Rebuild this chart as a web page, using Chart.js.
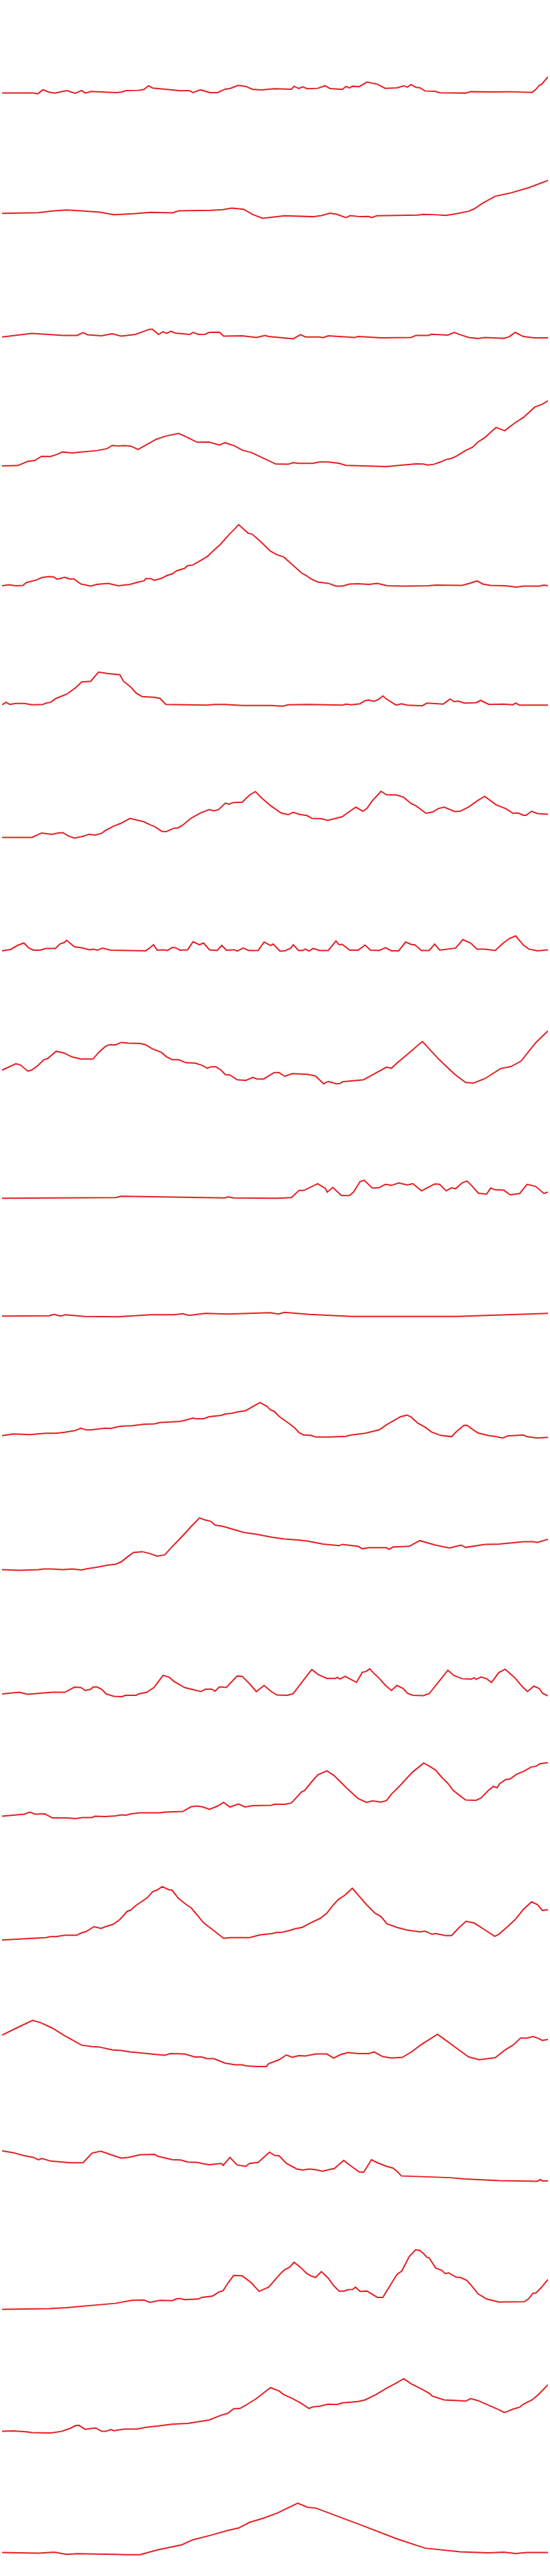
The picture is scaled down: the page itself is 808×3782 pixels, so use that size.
<!DOCTYPE html>
<html>
<head>
<meta charset="utf-8">
<script src="https://cdn.jsdelivr.net/npm/chart.js@4.4.1/dist/chart.umd.min.js"></script>
<style>
  html, body { margin: 0; padding: 0; background: #fff; }
  #stack { position: relative; width: 808px; height: 3782px; }
  .panel { position: absolute; left: 0; width: 808px; }
</style>
</head>
<body>
<div id="stack"></div>
<script>
// 21 sparklines, each series is [step, value] pairs.
// step runs 0..120 across the width, value 0..180 within each strip.
const s01 = [[0,43.4],[6.9,43.4],[7.9,42.4],[9,48.4],[10.2,45.1],[11.5,43.4],[14.2,47.1],[16.1,43.1],[17.5,47.1],[18.3,43.4],[19.6,45.8],[21.9,45.1],[25,44.1],[26.2,44.8],[27.3,47.1],[30,47.4],[31.2,48.8],[32.2,54.1],[33.1,50.8],[39.3,46.8],[41.1,47.1],[42,44.1],[43.6,48.1],[45.7,44.1],[47.4,44.1],[49,49.1],[50.1,50.1],[51.9,54.8],[53.6,53.1],[55.1,48.8],[57.1,48.1],[59.8,49.8],[63.6,49.1],[64.2,53.4],[65.2,50.1],[66.1,52.4],[67.1,49.8],[69.4,50.4],[71,54.1],[72.1,50.1],[74.8,48.8],[75.6,53.1],[76.4,50.8],[77,53.4],[78.5,52.8],[80.2,59.4],[82.5,56.4],[84.2,50.4],[86.8,51.1],[88.3,54.1],[89.1,52.1],[89.9,55.8],[91,51.8],[91.8,51.4],[93,46.4],[95.1,46.1],[96.3,43.8],[101.9,43.4],[103,45.4],[107.6,45.1],[111.5,45.4],[116.5,44.4],[117.3,48.4],[118.1,54.8],[118.7,56.8],[120,67.4]];
const s02 = [[0,46.9],[8,47.9],[11.1,50.2],[14.2,51.9],[17.3,50.5],[21.5,48.5],[24.6,44.9],[28.9,46.2],[32.7,48.2],[37.4,47.5],[38.9,50.5],[45.9,51.2],[48.6,52.2],[50.5,54.5],[53.1,52.9],[55.1,45.2],[57.3,39.5],[62.1,43.2],[68.3,41.9],[70.2,43.5],[72.1,46.9],[73.5,45.5],[75.6,40.5],[76.5,43.5],[78.7,41.9],[80.6,42.2],[81.2,40.5],[82.4,43.2],[91.4,44.2],[92.6,45.2],[94.9,44.9],[97.6,43.9],[99.9,46.2],[102.6,49.9],[103.8,53.5],[105.7,61.9],[108.4,71.9],[111.5,76.2],[115.8,84.5],[120,95.2]];
const s03 = [[0,45.3],[6.5,50.6],[9.6,49.3],[13.4,47.6],[16.5,47.6],[17.8,51.6],[18.8,48.6],[21.9,47],[24.2,50],[26.2,46.6],[29.3,49],[30.8,52.6],[32.4,56.6],[33.1,56.6],[34.4,49],[35.4,53],[36.2,50.6],[37.1,53.6],[38.1,51],[41.2,49],[42,52],[43.2,49],[44.7,49.3],[45.5,52],[47.8,52.3],[48.7,46.6],[52.8,47],[55.9,44.6],[57.8,47.6],[58.6,46],[64,42.6],[65.6,48.6],[66.7,45.3],[69.8,45.3],[70.6,44.3],[71.7,47],[77.5,44.6],[78.3,46],[83.3,44],[89.9,44.6],[91,47.6],[93.7,47.6],[94.4,49.3],[98,48],[99.4,52],[100.7,48.6],[102.6,44.6],[104.6,43],[106.1,44.6],[110.3,43.3],[111.5,45.6],[112.8,52],[114.6,46],[116.9,44],[120,44]];
const s04 = [[0,36.1],[3.4,36.4],[5.7,42.7],[7.1,43.7],[8.7,50.1],[10.6,49.7],[11.9,52.4],[13.3,56.4],[15.4,55.1],[17.3,56.4],[20.8,58.4],[23.1,61.4],[24.2,66.1],[25.4,65.4],[26.9,65.7],[28.3,65.1],[29.9,60.1],[33.9,75.1],[35.8,79.4],[38.8,83.7],[40.5,78.7],[42.9,70.7],[45.5,71.1],[47.8,66.7],[49,70.1],[51.1,65.4],[52.8,59.1],[54.8,55.7],[57.5,47.1],[60.2,38.7],[62.9,38.4],[64,40.7],[65.2,39.7],[68.3,39.7],[69.8,41.7],[71.7,41.7],[74.1,39.7],[75.6,36.7],[84.5,35.1],[91,39.1],[92.6,38.7],[93.6,37.4],[94.9,38.4],[96.4,41.7],[97.6,45.4],[98.8,47.1],[99.9,50.4],[101.9,58.7],[103.4,63.4],[104.6,71.1],[106.1,77.4],[107.5,86.1],[108.6,92.4],[110.5,87.7],[112.7,99.1],[114.6,107.1],[117.1,122.4],[118.8,126.7],[120,131.7]];
const s05 = [[0,40.1],[1.5,41.6],[3,40.1],[4.6,40.6],[5.3,44.6],[7.6,48.6],[8.7,52],[10.3,53.5],[11.3,53],[12.1,49.6],[13.8,52.5],[14.8,50.1],[15.8,50.1],[17.3,42.6],[19.5,39.6],[20.8,42.1],[23.3,43.6],[25.6,40.1],[28.1,42.1],[30,45.6],[31.2,47.1],[31.6,50.5],[32.7,50.5],[33.5,48.1],[35.1,51],[36.2,55],[37.4,57.5],[38.4,62],[40.1,65.5],[40.8,69.5],[41.9,70.4],[43.6,76.9],[45.1,82.9],[46.5,91.8],[48,100.8],[49.9,115.2],[51.1,123.2],[52,129.7],[53.1,123.2],[54.1,117.2],[55,115.7],[57.1,103.3],[59,90.8],[60.5,85.4],[61.9,82.4],[63.6,72.4],[65.8,59],[67,54.5],[67.9,50.1],[69.4,45.6],[71.7,43.6],[73.4,39.6],[74.8,39.6],[76.4,42.6],[78.3,43.1],[80.6,42.1],[82.5,43.6],[84.7,40.1],[88.3,39.6],[93.7,40.1],[95.3,41.1],[101.1,40.6],[103,44.1],[104.4,47.1],[105.7,42.6],[107.3,40.6],[110.7,40.1],[113.1,38.1],[114.6,39.6],[118.1,39.6],[119.1,41.1],[120,40.1]];
const s06 = [[0,46.1],[0.9,49.6],[1.7,46.6],[3,48.1],[4.9,48.1],[6.6,46.1],[9,46.6],[9.7,48.6],[10.7,49.6],[11.9,55.5],[14.2,61.5],[16.1,70.5],[17.5,79.4],[19.5,80.4],[21.2,93.8],[23.1,91.8],[25.9,89.8],[26.7,80.4],[28.3,71.9],[29.5,63],[30.8,58],[33.5,57],[34.7,55.5],[36,46.6],[45.1,45.6],[46.6,46.6],[49,46.6],[52.8,45.1],[59,45.1],[61.7,44.1],[62.9,46.1],[67.5,46.6],[74.8,45.6],[75.6,47.1],[76.8,46.1],[78.7,47.6],[79.8,52],[80.6,53],[81.8,51],[82.8,54],[83.7,59],[84.5,54.5],[86.6,45.6],[87.8,47.6],[89.1,45.6],[92.4,44.6],[93.4,48.6],[97,47.1],[98.5,54.5],[99.4,50.5],[100.3,51.5],[101.6,48.6],[104.2,49.1],[105.2,52.5],[107,46.6],[110.3,47.1],[112.3,46.1],[112.9,48.6],[113.7,45.6],[120,45.6]];
const s07 = [[0,31.6],[6.6,31.6],[8.7,38.1],[11,36.1],[12.3,38.1],[13.4,38.6],[14.6,33.6],[15.9,30.6],[17.7,33.1],[19.1,36.1],[20.5,35.1],[21.9,37.6],[22.7,41.6],[24.4,47.6],[26.2,52.5],[28.1,59.5],[31.2,54.5],[32.7,49.6],[33.5,47.6],[35.1,40.6],[36.1,40.1],[37.8,45.1],[38.7,45.6],[39.7,49.6],[41.6,60],[43.6,67.5],[45.6,72.4],[46.5,70.5],[47.6,72.4],[49.1,81.9],[49.9,80.4],[50.9,82.9],[52.8,83.4],[54.4,93.8],[55.7,98.8],[57.1,89.4],[59,78.4],[61.3,67.5],[62.9,65],[64,68.5],[65.3,65.5],[67.1,63.5],[68.1,59.5],[70.2,59],[71.6,56.5],[74.8,62],[75.6,66],[77.8,76],[79.3,70],[80.2,73.9],[81.4,85.4],[83.3,99.3],[84.5,94.3],[86.8,93.8],[88.3,90.4],[89.9,81.4],[91,77.9],[93.2,67],[94.7,69],[95.9,73.9],[97.2,76],[99.5,69.5],[100.7,70],[102.6,76.4],[104.6,85.9],[106.1,91.8],[108.6,79.4],[110.7,73.9],[112.3,67],[113.4,67.5],[114.6,64],[115.2,64],[116.4,70],[117.7,66.5],[120,65.5]];
const s08 = [[0,45.1],[1.9,47.1],[3.4,53],[4.8,56.5],[5.9,49.1],[6.9,46.1],[8.4,46.1],[9.6,48.6],[11.7,48.6],[12.8,55.5],[13.6,57],[14.2,60.5],[15.9,51],[17.5,49.6],[19.2,46.6],[20,47.6],[21,46.1],[22.1,49.1],[23.9,46.1],[31.6,45.1],[32.6,50.1],[33.3,54],[34.1,46.1],[35.4,46.6],[36.4,45.6],[37.4,50.1],[38.1,49.6],[39.1,46.1],[40.8,46.6],[42,58.5],[43.4,54],[44.3,56.5],[45.6,46.6],[47.3,45.6],[48.3,53],[49.3,46.1],[51.1,46.6],[51.7,44.6],[53,49.1],[54.2,45.6],[56.3,45.6],[57.6,58],[59,53],[59.6,55],[61.1,44.6],[62.2,45.1],[63.5,49.1],[64,54],[65.2,45.6],[66.1,45.6],[66.7,47.6],[67.5,44.6],[68.4,48.6],[69.8,45.6],[71.7,45.6],[73.4,59.5],[74.1,54],[74.8,54.5],[76.4,46.1],[78.3,46.1],[79.8,53.5],[81,46.1],[82.9,45.6],[84.3,49.6],[85.6,45.1],[87.2,45.1],[88.7,58],[90.1,54],[90.7,54],[92.2,45.6],[93.9,45.6],[95.1,55],[96.2,46.1],[99.7,49.1],[101.3,61.5],[103,56.5],[104.4,47.6],[106.1,47.6],[108.4,45.6],[110,55.5],[111.5,63],[112.9,67],[114.6,53.5],[115.8,47.6],[117.7,45.1],[120,46.6]];
const s09 = [[0,49.8],[3,59.2],[4,57.7],[5.7,48.3],[6.6,50.3],[7.9,56.7],[9.2,65.2],[10,66.7],[11.9,77.6],[13.6,75.1],[15.4,69.2],[17.3,66.2],[20,66.2],[21.2,75.6],[22.7,84.6],[23.6,87.1],[25,87.1],[26.2,90.6],[27.7,89.6],[30.4,89.1],[31.6,87.1],[32.9,81.6],[35.1,75.6],[36.1,69.7],[37.4,65.2],[38.8,65.2],[40.5,60.7],[42.4,60.2],[43.9,57.2],[45.1,52.7],[45.9,54.7],[47,54.7],[48,50.8],[49.1,43.3],[50.1,42.8],[51.7,35.8],[53.6,34.8],[55.1,39.3],[56.1,36.8],[57.5,36.8],[59.8,46.3],[60.9,46.3],[62.1,40.8],[63.8,44.8],[67.1,43.8],[68.9,41.3],[70.7,29.8],[71.7,33.3],[73.5,29.8],[74.4,30.4],[74.8,32.8],[79.5,35.8],[81,41.3],[84.5,54.2],[85.6,52.7],[86.8,60.2],[89.1,73.1],[92.4,92],[96.1,65.2],[99.5,43.8],[101.9,31.8],[103.6,30.8],[106.1,37.3],[109.6,52.2],[111.9,55.2],[114.1,63.2],[117.3,90.1],[120,107.5]];
const s10 = [[0,41.8],[25,42.8],[26.2,44.8],[49,42.3],[49.7,43.8],[50.9,42.3],[60.5,41.8],[63.6,42.8],[65.3,53.2],[66.3,53.2],[69.4,63.2],[71.1,56.2],[71.5,50.8],[72.7,57.7],[74.6,45.8],[76.4,45.8],[77.3,51.3],[78.7,66.2],[79.6,68.2],[81.4,56.7],[82.8,57.2],[84.3,62.2],[85.6,60.7],[87.2,64.2],[89.1,61.2],[90.3,63.2],[92.2,52.7],[95.1,62.7],[96.2,62.2],[97.6,52.7],[98.8,57.2],[99.7,55.7],[101.1,64.2],[102.2,67.2],[103.4,59.2],[104.7,49.3],[106.5,47.8],[107.4,56.7],[108.4,54.2],[110.3,53.7],[111.7,46.8],[113.8,48.8],[115.4,62.2],[117.3,59.2],[119.1,48.8],[120,50.8]];
const s11 = [[0,48.8],[10.3,49.3],[11.5,51.2],[12.8,48.8],[14,50.8],[18.1,48.3],[25.4,47.8],[32.7,50.8],[37.8,50.8],[39.7,52.2],[41.1,49.8],[44.7,52.7],[49.7,51.7],[59,53.7],[60.7,51.7],[62.1,54.2],[67.5,51.2],[76.8,48.3],[99.9,48.3],[120,52.7]];
const s12 = [[0,53.2],[2.6,55.7],[6.1,54.7],[9.6,56.7],[11.9,56.7],[13.8,58.2],[16.1,60.7],[17.3,64.2],[18.5,61.7],[19.6,61.7],[22.7,64.2],[23.9,63.7],[25.4,66.2],[26.6,67.2],[28.5,67.7],[31.2,70.1],[33.5,70.6],[34.7,72.6],[38.9,74.1],[40.1,75.6],[41.9,79.1],[42.8,78.1],[44.3,78.1],[45.5,81.1],[48.2,83.1],[49,85.1],[50.5,86.1],[51.7,88.1],[53.6,90.1],[55.5,97.5],[56.7,102],[58.2,96.5],[59,91.1],[59.8,89.1],[60.9,81.6],[63.2,70.6],[64.4,64.2],[65.3,57.7],[66.3,54.2],[67.9,53.7],[69,51.2],[72.1,51.2],[75.6,52.2],[76.8,54.2],[79.8,56.7],[82.9,61.7],[84.5,69.2],[87.6,81.1],[89,83.6],[89.9,80.6],[91.4,71.6],[93,65.7],[94.4,58.7],[96.4,53.7],[98.8,51.7],[99.9,59.2],[101.5,68.2],[102.2,68.6],[103.4,62.7],[104.6,57.2],[107,53.2],[108.3,52.2],[110,49.7],[111.1,52.7],[114.6,54.2],[115.4,51.7],[117.7,49.7],[120,50.7]];
const s13 = [[0,36.5],[3.8,35.5],[8,36.5],[9.2,37.5],[10.7,37.5],[13.4,36.5],[15.4,37.5],[17.5,36],[18.8,38],[20.4,39.5],[23.1,43],[25,44.5],[26.2,48],[27.5,54.9],[28.9,61.9],[30.8,62.9],[32.4,60.4],[34.1,56.4],[35.8,58.4],[37.4,70.4],[38.1,75.1],[40.1,89.1],[41.6,100],[43.4,112.5],[44.6,109.5],[45.9,107.5],[46.8,102],[48.6,100],[50.9,95.6],[53.2,91.1],[55.9,88.6],[59.4,84.1],[62.1,81.6],[65.2,80.1],[67.1,78.6],[70.6,74.1],[74.1,71.7],[74.8,73.6],[78.3,70.7],[79.2,67.2],[80.6,68.7],[84.5,68.7],[85.1,66.2],[85.9,69.7],[89.5,70.7],[91.8,79.1],[95.3,72.6],[98.4,68.2],[99.5,70.2],[100.9,72.6],[101.9,69.2],[106.1,73.6],[109.2,74.1],[114.6,77.6],[116.8,77.6],[117.7,76.6],[120,81.1]];
const s14 = [[0,34],[3.8,36.5],[5.6,33.5],[11.1,36.5],[13.8,36.5],[15.9,44],[17.3,43.5],[18.3,39],[19.5,41],[20,44],[20.8,44.5],[21.9,41],[22.9,34],[24.6,30.6],[26.4,30.1],[27.1,32],[29.5,32],[30,34],[31.8,36.5],[33.4,43.5],[34.4,52.4],[35.4,61.4],[36.8,58.4],[37.8,52.4],[40.1,43.5],[43.7,37.5],[44.7,41],[46.1,41],[46.8,38],[47.8,44.5],[49.3,43.5],[51.7,60.4],[52.8,59.9],[54.4,49],[55.9,37.5],[57.6,46.5],[59.2,37.5],[60.4,32.5],[62.7,32],[64,34.5],[66.1,52.9],[67.5,64.9],[68.1,69.9],[69.4,62.9],[71.4,56.9],[73.3,56.9],[73.7,58.4],[74.3,55.9],[75.4,59.9],[76.8,54.9],[77.9,51],[79.2,65.9],[80,66.9],[80.8,70.9],[81.8,63.9],[82.9,56.9],[84.3,46.5],[85.6,39],[86.8,46.5],[88.2,42],[89.1,35],[90.3,32],[92.6,31.6],[93.9,34.5],[96.1,52.9],[98,68.9],[99.3,61.4],[101.1,56.4],[103.2,55.9],[103.8,57.9],[104.2,55.4],[105.3,58.9],[106.5,56.4],[107.6,51],[109.2,65.4],[110.6,70.4],[112.7,57.9],[114.4,44.5],[115.5,37.5],[116.9,45.5],[118.1,42],[118.8,35],[120,31.1]];
const s15 = [[0,34.5],[4.9,37.5],[6.1,40.5],[7.3,37.5],[9.4,38],[11.1,32],[14.2,32],[16.1,31.1],[17.7,32.5],[19.8,32.5],[20.4,34.5],[22.7,34],[25,35],[26.2,36.5],[27.3,36],[28.3,38],[30.4,39.5],[34.7,39.5],[35.8,40.5],[39.7,41.5],[41.6,48.5],[42.9,49.5],[44.2,48],[45.6,44.5],[47.4,49.5],[48.7,54.9],[50.1,48],[52,52.4],[53.4,48],[55.1,50],[59.2,50.5],[59.8,52],[62.1,52],[63.6,53.9],[65.8,69.9],[66.5,72.3],[68.1,85.3],[69.4,95.2],[71.4,101.2],[72.9,94.7],[74.1,86.8],[76,74.3],[78.3,60.4],[80.1,54.9],[81.4,56.9],[83.3,55.4],[84.5,57.4],[85.6,66.9],[87.6,80.3],[89.1,91.3],[90.3,99.7],[91.6,106.7],[92.7,112.6],[93.9,108.2],[95.3,102.2],[96.7,91.3],[98,82.8],[99.2,72.3],[100.5,65.4],[101.9,58.4],[104.2,57.9],[105.3,61.4],[106.9,72.3],[108,78.3],[108.8,76.3],[109.4,82.3],[110.7,88.3],[111.7,89.3],[113.1,96.2],[114.6,100.2],[116.3,106.7],[117.5,108.2],[118.2,111.6],[120,113.1]];
const s16 = [[0,33.5],[9.6,37],[10.7,38.5],[11.9,38.5],[13.8,40.5],[16.4,40.5],[17.3,43.5],[18.5,46],[20.2,53],[21.8,50.5],[22.7,53],[24.4,56.4],[25.8,62.9],[26.7,69.4],[27.5,75.4],[28.3,77.3],[29.3,83.3],[32,95.7],[33.1,104.2],[34.1,106.7],[35.2,111.6],[36.6,107.2],[37.4,106.2],[38.8,94.2],[40.5,85.3],[41.6,80.3],[42.8,70.9],[44.2,59.4],[46.3,48.5],[48.7,36],[50.1,37],[54.4,37],[56.7,41],[59.4,43],[60.2,44.5],[61.7,45],[63.2,47.5],[64.4,50],[66,52],[67.9,58.9],[70,65.4],[71.4,72.8],[72.5,82.3],[73.9,92.7],[75.4,99.2],[77,109.2],[78.3,99.2],[80.1,85.3],[82,72.8],[83.3,67.9],[84.6,57.4],[86.8,52],[89.1,48],[91.8,45.5],[93,46.5],[94.5,42],[95.3,43],[97.5,40],[98.8,40],[100.5,52],[102,60.9],[103.8,58.4],[106.1,48.5],[108.3,39],[109.2,42],[111.1,53],[112.8,63.4],[114.6,78.3],[116.4,89.3],[117.7,85.3],[118.8,76.8],[120,77.8]];
const s17 = [[0,74.3],[3.4,85.3],[6.7,95.7],[8.4,92.7],[11.1,84.3],[13.6,73.9],[17.5,59.4],[19.8,57.4],[21.2,56.9],[24.2,52.5],[26.2,51.5],[28.1,49.5],[35.8,44.5],[37,47],[40.1,46.5],[42.4,42],[43.9,42],[45.1,39.5],[46.6,39.5],[49,33.1],[51.3,30.6],[52.8,30.6],[53.6,29.1],[55.9,28.1],[58.1,28.1],[58.6,32.1],[60.9,38],[62.5,45],[63.8,41.5],[65.2,44],[66.7,43.5],[69,46.5],[71.4,46.5],[72.9,40.5],[74.4,45.5],[76,48.5],[78.3,47],[80.6,47],[81.8,49.5],[83.7,42.5],[85.6,40.5],[88,41.5],[89.9,49],[92.2,60.4],[95.7,75.3],[98,64.4],[100.3,53],[102.6,42],[104.9,38],[108.4,41],[110.7,53],[112.3,59.4],[114,69.9],[115.4,69.9],[116.7,71.9],[117.7,69.9],[118.8,66.4],[120,67.9]];
const s18 = [[0,84.3],[2.6,81.4],[4.6,77.5],[6.9,74.6],[8,71.2],[8.8,73.1],[10.7,69.2],[15,66.8],[17.8,66.8],[19.8,80.9],[21.7,83.8],[24.6,77],[26.2,73.6],[27.7,74.6],[30.4,78.5],[33.5,79],[34.4,76],[37.4,71.2],[39.3,70.7],[40.8,67.8],[42.8,67.3],[45.5,63.9],[48.2,65.8],[48.6,62.9],[50.1,74.6],[51.7,63.4],[53.6,61.5],[54.4,65.8],[56.3,67.3],[58.8,82.3],[59.9,77.5],[60.9,77],[62.5,65.8],[64.8,57.6],[66.1,56.1],[67.5,57.6],[69,56.6],[70.4,54.2],[73.1,58.5],[75.1,70.2],[76.8,61.5],[78.5,53.2],[79.5,52.7],[81.2,71.2],[82.5,66.8],[84.5,61.5],[85.9,59],[86.8,54.2],[87.8,47.4],[98.4,44.9],[101.5,43],[109.2,40.6],[117.7,39.6],[118.3,42],[118.8,40.1],[120,40.1]];
const s19 = [[0,31.6],[10.3,32.6],[14.2,34.1],[25,40.4],[28.5,44.8],[31.2,45.2],[32.5,41.8],[34.7,44.8],[37.4,44.3],[38.5,47.2],[39.3,47.2],[40.1,45.7],[43.2,46.7],[43.9,49.1],[46.3,51.1],[47.8,57.4],[48.6,58.9],[49.7,70.5],[50.9,81.2],[52.8,80.7],[54.8,70.5],[56.5,57.9],[58.6,64.2],[61.3,84.6],[62.2,90],[63.2,93.4],[64.2,100.6],[65.6,93.4],[66.9,84.6],[67.9,80.7],[68.9,78.3],[70.2,87],[71.7,77.3],[72.9,66.2],[74.1,58.4],[75.2,58.4],[76,60.3],[77.1,60.8],[77.7,64.2],[78.7,57.9],[80.2,58.4],[82.5,49.1],[83.7,49.1],[85.3,66.6],[86.8,82.7],[87.9,88],[89.5,108.9],[90.9,119.1],[91.8,118.1],[92.6,113.8],[93.4,107.9],[93.9,107],[95.3,92.4],[96.7,88.5],[97.4,84.1],[98.2,85.1],[99.8,78.8],[100.8,78.3],[102.2,73.9],[103.4,64.7],[104.6,54.5],[106.5,46.7],[109.2,42.3],[114.8,42.8],[115.8,47.2],[116.7,55.4],[117.3,55.4],[118.5,63.2],[120,75.4]];
const s20 = [[0,32.4],[2.6,32.9],[5.7,31.5],[6.5,30.5],[10.7,30],[13.1,32.4],[15,36.8],[16.1,40.7],[16.9,41.2],[18.3,35.4],[19.8,36.8],[20.6,37.3],[21.9,32.4],[22.9,32.4],[23.9,34.9],[24.6,33.4],[27,35.8],[29.7,35.8],[31.6,38.3],[34.3,40.2],[37.5,43.1],[40.8,44.1],[45.5,49],[48.2,56.2],[49.6,58.7],[50.9,65.5],[52.3,66],[53.6,70.8],[55.9,80.5],[57.3,87.8],[59,96.6],[60.9,91.7],[61.9,86.4],[63.6,81.5],[65.6,74.2],[67.5,66],[68.3,68.4],[69.8,69.4],[71.7,72.3],[73.7,71.8],[74.8,74.2],[76.8,75.2],[78.3,76.2],[79.8,78.6],[82.2,86.4],[84.5,95.6],[86.4,102.4],[88.3,109.7],[90,101.9],[92.2,94.6],[94.1,87.4],[94.5,84.4],[97.2,78.6],[100.3,77.6],[101.9,76.7],[103,80.5],[104.6,77.6],[107.6,68.9],[109.3,64],[110.4,60.1],[111.1,61.6],[112.3,65],[113.8,67.9],[114.6,72.3],[116.5,78.6],[117.8,85.9],[119.1,94.6],[120,100.9]];
const s21 = [[0,34.6],[8,33.6],[11.5,35.1],[14.2,31.7],[16.5,32.7],[25,31.7],[27.3,31.2],[30.3,31.2],[34.3,38.5],[39.5,45.8],[41.9,53.1],[45.9,59.9],[49.7,67.1],[52,70.5],[54.4,78.8],[57.5,85.1],[60.5,92.4],[65,107],[67.1,101.1],[69,99.7],[79.1,74.4],[86.8,54.5],[93,40.9],[100.7,35.6],[106.9,34.1],[110.3,35.1],[112.9,33.1],[115.4,34.6],[120,34.6]];

const seriesList = [s01, s02, s03, s04, s05, s06, s07, s08, s09, s10, s11,
  s12, s13, s14, s15, s16, s17, s18, s19, s20, s21];

const STEP_MAX = 120;
const STRIP_MAX = 180.1;
const LINE_COLOR = "#e41f22";

const stack = document.getElementById("stack");
const total = 3782;
const n = seriesList.length;

seriesList.forEach(function (pts, i) {
  const top = Math.round(i * total / n);
  const bottom = Math.round((i + 1) * total / n);
  const div = document.createElement("div");
  div.className = "panel";
  div.style.top = top + "px";
  div.style.height = (bottom - top) + "px";
  const canvas = document.createElement("canvas");
  div.appendChild(canvas);
  stack.appendChild(div);

  new Chart(canvas, {
    type: "line",
    data: {
      datasets: [{
        data: pts,
        borderColor: LINE_COLOR,
        borderWidth: 2,
        pointRadius: 0,
        tension: 0,
        fill: false
      }]
    },
    options: {
      responsive: true,
      maintainAspectRatio: false,
      animation: false,
      layout: { padding: { left: 3, right: 3, top: 0, bottom: 0 } },
      plugins: { legend: { display: false }, tooltip: { enabled: false } },
      scales: {
        x: { type: "linear", min: 0, max: STEP_MAX, display: false },
        y: { type: "linear", min: 0, max: STRIP_MAX, display: false }
      }
    }
  });
});
</script>
</body>
</html>
